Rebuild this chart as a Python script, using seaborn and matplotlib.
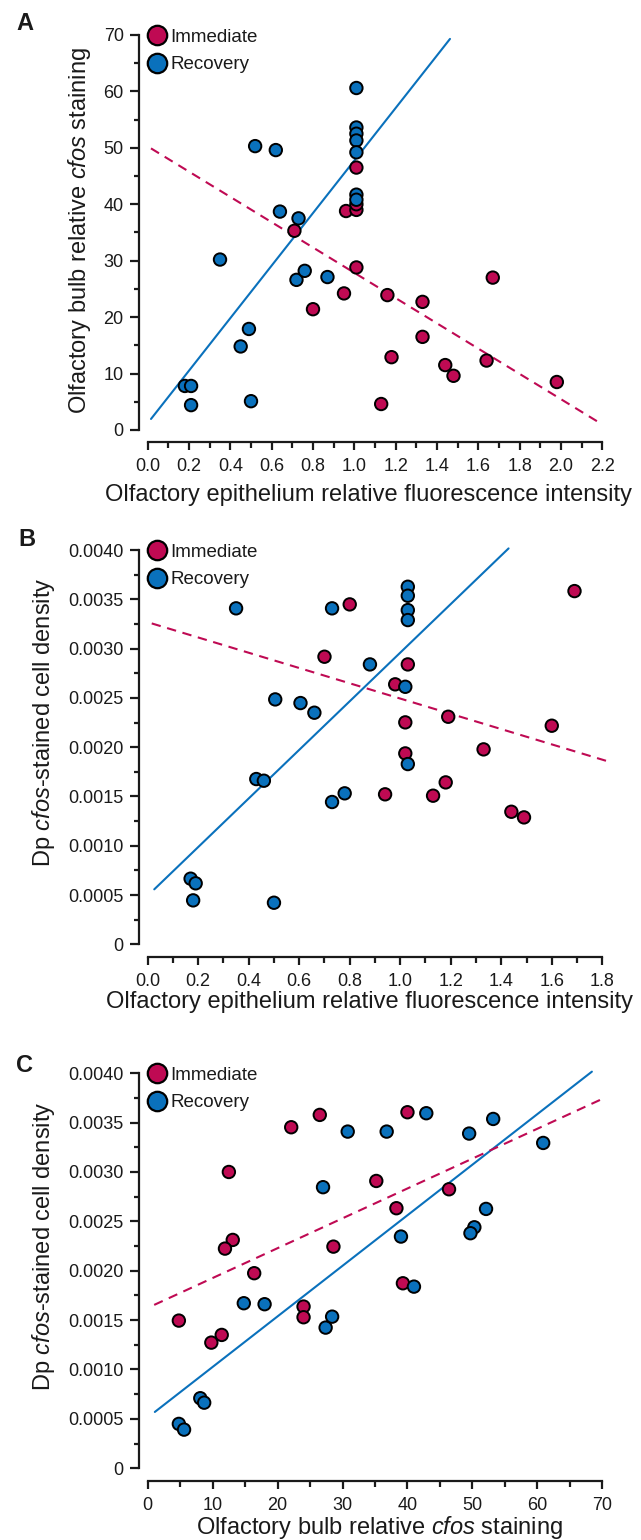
import numpy as np
import pandas as pd
import matplotlib
matplotlib.use("Agg")
import matplotlib.pyplot as plt
from matplotlib.lines import Line2D
from matplotlib.ticker import MultipleLocator, FuncFormatter
import seaborn as sns

groups = ["Immediate", "Recovery"]
colors = {"Immediate": "#BF0A53", "Recovery": "#0A71BC"}

# -------------------------
# Panel A: OE fluorescence vs OB cfos staining
# -------------------------
a_imm_x = [1.01, 0.96, 1.01, 1.01, 0.71, 1.01, 1.67, 0.95, 0.80, 1.16, 1.33,
           1.33, 1.18, 1.44, 1.48, 1.64, 1.98, 1.13]
a_imm_y = [46.5, 38.8, 39.0, 40.0, 35.3, 28.8, 27.0, 24.2, 21.4, 23.9, 22.7,
           16.5, 12.9, 11.5, 9.6, 12.3, 8.5, 4.6]
a_rec_x = [1.01, 1.01, 1.01, 1.01, 1.01, 1.01, 1.01, 0.52, 0.62, 0.64, 0.73,
           0.35, 0.72, 0.76, 0.87, 0.49, 0.45, 0.18, 0.21, 0.21, 0.50]
a_rec_y = [60.6, 53.6, 52.5, 51.3, 49.2, 41.7, 40.8, 50.3, 49.6, 38.7, 37.5,
           30.2, 26.6, 28.2, 27.1, 17.9, 14.8, 7.8, 7.8, 4.4, 5.1]
a_fit_rec = ([0.016, 1.463], [1.95, 69.3])
a_fit_imm = ([0.016, 2.19], [49.9, 1.2])

# -------------------------
# Panel B: OE fluorescence vs Dp cell density
# -------------------------
b_imm_x = [0.80, 1.69, 0.70, 1.03, 0.98, 1.19, 1.60, 1.02, 1.33, 1.02, 0.94,
           1.13, 1.18, 1.44, 1.49]
b_imm_y = [0.003449, 0.003584, 0.002918, 0.002840, 0.002638, 0.002309,
           0.002218, 0.002252, 0.001978, 0.001937, 0.001522, 0.001508,
           0.001643, 0.001345, 0.001288]
b_rec_x = [0.35, 0.73, 1.03, 1.03, 1.03, 1.03, 0.88, 1.02, 0.505, 0.605, 0.66,
           1.03, 0.43, 0.46, 0.73, 0.78, 0.17, 0.19, 0.18, 0.50]
b_rec_y = [0.003409, 0.003409, 0.003628, 0.003537, 0.003391, 0.003290,
           0.002840, 0.002613, 0.002485, 0.002448, 0.002350, 0.001829,
           0.001677, 0.001660, 0.001444, 0.001532, 0.000666, 0.000619,
           0.000446, 0.000422]
b_fit_rec = ([0.026, 1.429], [0.000558, 0.004017])
b_fit_imm = ([0.016, 1.819], [0.003256, 0.001859])

# -------------------------
# Panel C: OB cfos staining vs Dp cell density
# -------------------------
c_imm_x = [22.1, 26.5, 40.0, 12.5, 35.2, 46.4, 38.3, 13.1, 11.9, 28.6, 16.4,
           39.3, 24.0, 24.0, 4.8, 9.8, 11.4]
c_imm_y = [0.003453, 0.003578, 0.003605, 0.003000, 0.002909, 0.002825,
           0.002633, 0.002312, 0.002224, 0.002244, 0.001975, 0.001873,
           0.001637, 0.001529, 0.001495, 0.001272, 0.001350]
c_rec_x = [42.9, 30.8, 36.8, 49.5, 53.2, 60.9, 27.0, 52.1, 50.3, 49.7, 39.0,
           41.0, 14.8, 18.0, 27.4, 28.4, 8.1, 8.7, 4.8, 5.6]
c_rec_y = [0.003595, 0.003409, 0.003409, 0.003389, 0.003537, 0.003294,
           0.002846, 0.002626, 0.002440, 0.002380, 0.002346, 0.001839,
           0.001671, 0.001661, 0.001424, 0.001535, 0.000709, 0.000664,
           0.000449, 0.000391]
c_fit_rec = ([1.1, 68.4], [0.000570, 0.004016])
c_fit_imm = ([1.0, 70.0], [0.001654, 0.003740])

oe_label = "Olfactory epithelium relative fluorescence intensity"
ob_label = r"Olfactory bulb relative $\it{cfos}$ staining"
dp_label = r"Dp $\it{cfos}$-stained cell density"

sns.set_style("ticks")
plt.rcParams["font.family"] = ["Liberation Sans", "DejaVu Sans"]
plt.rcParams["mathtext.fontset"] = "custom"
plt.rcParams["mathtext.rm"] = "Liberation Sans"
plt.rcParams["mathtext.it"] = "Liberation Sans:italic"
ink = "#1a1a1a"
plt.rcParams["text.color"] = ink
plt.rcParams["axes.labelcolor"] = ink
plt.rcParams["xtick.color"] = ink
plt.rcParams["ytick.color"] = ink


def make_df(imm_x, imm_y, rec_x, rec_y):
    return pd.DataFrame({
        "x": imm_x + rec_x,
        "y": imm_y + rec_y,
        "group": ["Immediate"] * len(imm_x) + ["Recovery"] * len(rec_x),
    })


def density_fmt(v, pos):
    return "0" if abs(v) < 1e-12 else f"{v:.4f}"


def draw_panel(ax, df, fit_rec, fit_imm, xlim, xstep, xminor, xfmt,
               ylim, ystep, yminor, yfmt, xlabel, ylabel, xlab_pos, ylab_pos):
    ax.plot(fit_rec[0], fit_rec[1], color=colors["Recovery"], lw=1.5,
            zorder=1, clip_on=False)
    ax.plot(fit_imm[0], fit_imm[1], color=colors["Immediate"], lw=1.5,
            ls=(0, (4.5, 3.2)), zorder=1, clip_on=False)
    sns.scatterplot(data=df, x="x", y="y", hue="group", palette=colors,
                    s=80, edgecolor="black", linewidth=1.4, legend=False,
                    ax=ax, zorder=3, clip_on=False)

    ax.set_xlim(xlim)
    ax.set_ylim(ylim)
    ax.set_xticks(np.round(np.arange(xlim[0], xlim[1] + xstep / 2, xstep), 6))
    ax.set_yticks(np.round(np.arange(ylim[0], ylim[1] + ystep / 2, ystep), 6))
    ax.xaxis.set_minor_locator(MultipleLocator(xminor))
    ax.yaxis.set_minor_locator(MultipleLocator(yminor))
    ax.xaxis.set_major_formatter(FuncFormatter(xfmt))
    ax.yaxis.set_major_formatter(FuncFormatter(yfmt))

    ax.tick_params(which="both", width=1.6, labelsize=13, direction="out")
    ax.tick_params(axis="y", which="major", length=6.5, pad=4.8)
    ax.tick_params(axis="y", which="minor", length=3.5)
    ax.tick_params(axis="x", which="major", length=6, pad=5.5)
    ax.tick_params(axis="x", which="minor", length=4.5)

    sns.despine(ax=ax, offset=dict(left=6, bottom=9))
    for side in ["left", "bottom"]:
        ax.spines[side].set_linewidth(1.6)
        ax.spines[side].set_color(ink)
    ax.spines["left"].set_bounds(ylim)
    ax.spines["bottom"].set_bounds(xlim)

    ax.set_xlabel(xlabel, fontsize=17)
    ax.set_ylabel(ylabel, fontsize=17)
    ax.xaxis.set_label_coords(*xlab_pos)
    ax.yaxis.set_label_coords(*ylab_pos)

    handles = [Line2D([], [], ls="", marker="o", ms=14, mfc=colors[g],
                      mec="black", mew=1.6, label=g) for g in groups]
    ax.legend(handles=handles, loc="upper left", bbox_to_anchor=(-0.005, 1.016),
              frameon=False, fontsize=13.5, handlelength=1.2,
              handletextpad=0.15, labelspacing=0.55, borderpad=0,
              borderaxespad=0)


fig = plt.figure(figsize=(6.41, 15.40), dpi=100)
left, width = 0.2304, 0.7092
ax_a = fig.add_axes([left, 0.7208, width, 0.2565])
ax_b = fig.add_axes([left, 0.3868, width, 0.2560])
ax_c = fig.add_axes([left, 0.0466, width, 0.2565])

draw_panel(ax_a, make_df(a_imm_x, a_imm_y, a_rec_x, a_rec_y), a_fit_rec, a_fit_imm,
           (0, 2.2), 0.2, 0.1, lambda v, p: f"{v:.1f}",
           (0, 70), 10, 5, lambda v, p: f"{v:.0f}",
           oe_label, ob_label,
           (0.486, -0.137), (-0.120, 0.505))

draw_panel(ax_b, make_df(b_imm_x, b_imm_y, b_rec_x, b_rec_y), b_fit_rec, b_fit_imm,
           (0, 1.8), 0.2, 0.1, lambda v, p: f"{v:.1f}",
           (0, 0.004), 0.0005, 0.00025, density_fmt,
           oe_label, dp_label,
           (0.488, -0.118), (-0.199, 0.5625))

draw_panel(ax_c, make_df(c_imm_x, c_imm_y, c_rec_x, c_rec_y), c_fit_rec, c_fit_imm,
           (0, 70), 10, 5, lambda v, p: f"{v:.0f}",
           (0, 0.004), 0.0005, 0.00025, density_fmt,
           ob_label, dp_label,
           (0.509, -0.115), (-0.199, 0.561))

for letter, (px, py) in zip("ABC", [(25, 23), (26.5, 540), (24.5, 1065)]):
    fig.text(px / 641, 1 - py / 1540, letter, fontsize=17, fontweight="bold",
             ha="center", va="center")

fig.savefig("out.png", dpi=100)
